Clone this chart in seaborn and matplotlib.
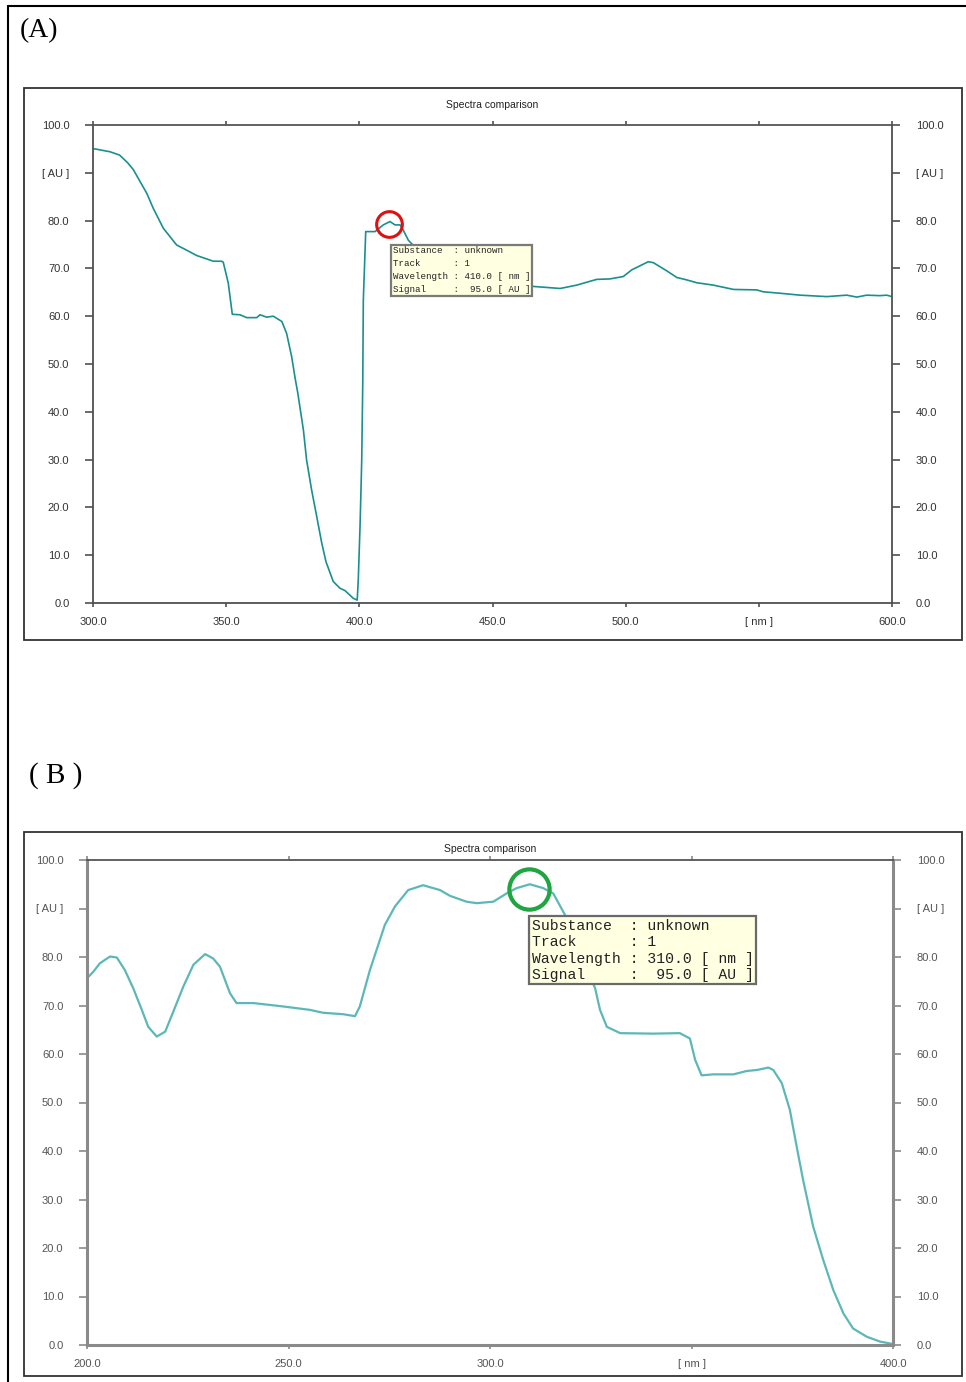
import numpy as np
import pandas as pd
import seaborn as sns
import matplotlib
matplotlib.use('Agg')
import matplotlib.pyplot as plt
from matplotlib.patches import Rectangle
from matplotlib.lines import Line2D

# ---------------- data ----------------
a_nm = [300, 300.7, 306.4, 310, 313, 315.1, 320.2, 322.6, 326.4, 331.4, 335.2, 338.9, 345.2, 348.3, 348.9,
        350.8, 352.3, 355.2, 357.7, 361.5, 362.7, 365.2, 367.7, 370.9, 372.7, 374.6, 375.9, 376.9, 379.0,
        380.2, 382.1, 384.0, 385.9, 387.5, 390.2, 392.7, 394.6, 397.7, 399.2, 399.6, 400.3, 400.9, 401.3,
        401.5, 402.4, 405.9, 409, 411.5, 413.4, 415.3, 416.5, 418.4, 425, 435, 445, 455, 462, 466, 475.4,
        481.6, 489.1, 494.1, 499.1, 502.3, 508.5, 510.4, 515.4, 519.2, 522.9, 526.7, 532.9, 540.5, 549.2,
        551.7, 558, 565.5, 575.5, 583, 586.8, 590.5, 595.5, 598, 600]
a_au = [95.0, 95.0, 94.4, 93.7, 92.1, 90.7, 85.7, 82.6, 78.4, 74.9, 73.8, 72.7, 71.5, 71.5, 71.3,
        66.9, 60.4, 60.3, 59.7, 59.7, 60.3, 59.8, 60.0, 58.9, 56.4, 51.5, 47.0, 43.9, 36.2,
        29.9, 23.6, 18.1, 12.5, 8.6, 4.5, 3.1, 2.6, 1.0, 0.6, 4.8, 16.7, 29.9, 46.7,
        63.4, 77.7, 77.7, 79.1, 79.8, 79.1, 79.1, 78.0, 75.9, 72, 69, 67.5, 66.8, 66.4, 66.2, 65.8,
        66.5, 67.7, 67.8, 68.3, 69.7, 71.4, 71.2, 69.5, 68.1, 67.6, 67.0, 66.5, 65.6, 65.5,
        65.1, 64.8, 64.4, 64.1, 64.4, 64.0, 64.4, 64.3, 64.4, 64.1]

b_nm = [200, 201.6, 203.2, 205.7, 207.4, 209.4, 211.5, 213.6, 215.2, 217.3, 219.4, 221.4, 223.9, 226.4,
        229.3, 231.3, 233, 235.5, 237.1, 241.3, 248.7, 255.3, 258.6, 263.6, 266.5, 267.7, 270.2, 273.9,
        276.4, 279.7, 283.4, 287.6, 290.1, 294.2, 296.7, 300.8, 304.1, 306.6, 309.9, 313.2, 315.7, 318.2,
        321, 323.5, 326.1, 327.3, 329, 332.3, 340.5, 347.1, 349.6, 350.9, 352.5, 355.4, 360.4, 363.7,
        366.2, 369.1, 370.3, 372.4, 374.4, 376.1, 377.7, 380.2, 382.7, 385.2, 387.7, 390.1, 393.5, 396.8, 400]
b_au = [75.6, 77.0, 78.7, 80.1, 79.9, 77.3, 73.5, 69.1, 65.6, 63.6, 64.6, 68.7, 73.9, 78.4,
        80.6, 79.7, 78.0, 72.5, 70.5, 70.5, 69.8, 69.1, 68.5, 68.2, 67.8, 69.8, 77.3, 86.6,
        90.4, 93.8, 94.8, 93.8, 92.6, 91.4, 91.1, 91.4, 93.1, 94.2, 95.0, 94.2, 93.1, 89.3,
        85, 79, 73.5, 69.1, 65.6, 64.3, 64.2, 64.3, 63.2, 58.8, 55.6, 55.8, 55.8, 56.5,
        56.7, 57.2, 56.7, 54.0, 48.5, 40.9, 34.0, 24.4, 17.5, 11.3, 6.5, 3.4, 1.7, 0.7, 0.2]

y_ticks = [0, 10, 20, 30, 40, 50, 60, 70, 80, 90, 100]
y_labels = ['0.0', '10.0', '20.0', '30.0', '40.0', '50.0', '60.0', '70.0', '80.0', '[ AU ]', '100.0']
a_xticks = [300, 350, 400, 450, 500, 550, 600]
a_xlabels = ['300.0', '350.0', '400.0', '450.0', '500.0', '[ nm ]', '600.0']
b_xticks = [200, 250, 300, 350, 400]
b_xlabels = ['200.0', '250.0', '300.0', '[ nm ]', '400.0']

a_mark = (411.2, 79.3)
b_mark = (309.7, 94.0)
a_tip_pos = (412.6, 74.6)
b_tip_pos = (310.3, 87.9)
a_tip = "Substance  : unknown\nTrack      : 1\nWavelength : 410.0 [ nm ]\nSignal     :  95.0 [ AU ]"
b_tip = "Substance  : unknown\nTrack      : 1\nWavelength : 310.0 [ nm ]\nSignal     :  95.0 [ AU ]"

# ---------------- figure ----------------
sns.set_style('white')
plt.rcParams['font.family'] = ['Liberation Sans', 'DejaVu Sans']

W, H = 966, 1382
fig = plt.figure(figsize=(W / 100, H / 100), dpi=100)

def fx(px):
    return px / W

def fy(py):
    return 1 - py / H

# outer frame (left and top)
fig.add_artist(Line2D([fx(8), fx(8)], [0, fy(6)], transform=fig.transFigure, color='black', lw=1.5))
fig.add_artist(Line2D([fx(8), 1], [fy(6), fy(6)], transform=fig.transFigure, color='black', lw=1.5))

# panel boxes
fig.add_artist(Rectangle((fx(24), fy(640)), fx(962) - fx(24), fy(88) - fy(640),
                         transform=fig.transFigure, fill=False, ec='#333333', lw=1.3))
fig.add_artist(Rectangle((fx(24), fy(1376)), fx(962) - fx(24), fy(832) - fy(1376),
                         transform=fig.transFigure, fill=False, ec='#333333', lw=1.3))

fig.text(fx(20), fy(31), '(A)', family=['Liberation Serif', 'DejaVu Serif'], fontsize=20,
         va='center', ha='left', color='black')
fig.text(fx(29), fy(776), '( B )', family=['Liberation Serif', 'DejaVu Serif'], fontsize=21,
         va='center', ha='left', color='black')

axA = fig.add_axes([fx(93), fy(603), fx(892) - fx(93), fy(125) - fy(603)])
axB = fig.add_axes([fx(87), fy(1345), fx(893) - fx(87), fy(860) - fy(1345)])


def setup(ax, xlim, xticks, xlabels, spine_color, label_color, spine_lw, title_pad):
    ax.set_xlim(*xlim)
    ax.set_ylim(0, 100)
    ax.set_yticks(y_ticks)
    ax.set_yticklabels(y_labels)
    ax.set_xticks(xticks)
    ax.set_xticklabels(xlabels)
    ax.set_xlabel('')
    ax.set_ylabel('')
    ax.set_facecolor('white')
    for s in ax.spines.values():
        s.set_visible(True)
        s.set_color(spine_color)
        s.set_linewidth(spine_lw)
    ax.spines['top'].set_color('#555555')
    ax.spines['top'].set_linewidth(1.3)
    ax.tick_params(axis='y', left=True, right=True, labelleft=True, labelright=True,
                   direction='out', length=6, width=1.2, color=spine_color, pad=11,
                   labelsize=8, labelcolor=label_color)
    ax.tick_params(axis='x', bottom=True, top=True, labelbottom=True, labeltop=False,
                   direction='out', length=3, width=1.2, color=spine_color, pad=7,
                   labelsize=8, labelcolor=label_color)
    ax.set_title('Spectra comparison', fontsize=7.5, pad=title_pad, color='#222222')
    ax.grid(False)


sns.lineplot(x=a_nm, y=a_au, ax=axA, color='#1a8f8f', lw=1.2, estimator=None, sort=False)
setup(axA, (300, 600), a_xticks, a_xlabels, '#505050', '#333333', 1.3, 12)
axA.plot([a_mark[0]], [a_mark[1]], marker='o', ms=18.5, mfc='none', mec='#e01010', mew=2.2, zorder=6)
axA.text(a_tip_pos[0], a_tip_pos[1], a_tip, family=['Liberation Mono', 'DejaVu Sans Mono'],
         fontsize=6.6, va='top', ha='left', linespacing=1.55, color='#222222', zorder=7,
         bbox=dict(boxstyle='square,pad=0.2', fc='#ffffe1', ec='#7a7a7a', lw=1.6))

sns.lineplot(x=b_nm, y=b_au, ax=axB, color='#5cb8b8', lw=1.6, estimator=None, sort=False)
setup(axB, (200, 400), b_xticks, b_xlabels, '#8a8a8a', '#555555', 2.2, 6)
axB.plot([b_mark[0]], [b_mark[1]], marker='o', ms=29, mfc='none', mec='#1fa640', mew=3, zorder=6)
axB.text(b_tip_pos[0], b_tip_pos[1], b_tip, family=['Liberation Mono', 'DejaVu Sans Mono'],
         fontsize=10.6, va='top', ha='left', linespacing=1.22, color='#222222', zorder=7,
         bbox=dict(boxstyle='square,pad=0.15', fc='#ffffe1', ec='#6a6a6a', lw=1.6))

fig.savefig('out.png', dpi=100)
